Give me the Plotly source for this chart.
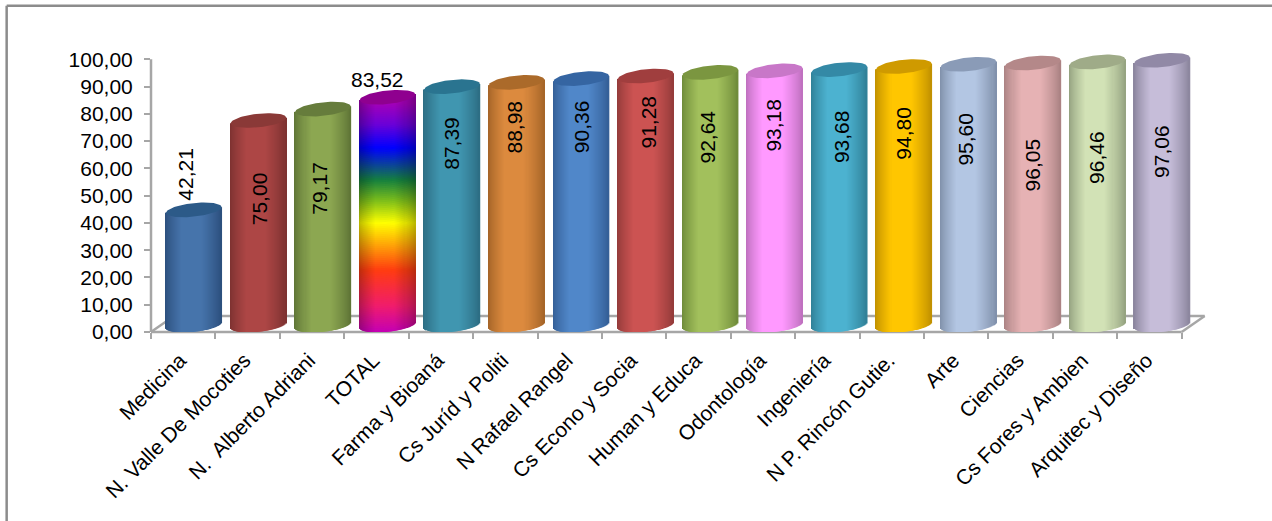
import numpy as np
import plotly.graph_objects as go

CATEGORIES = ["Medicina", "N. Valle De Mocoties", "N.  Alberto Adriani", "TOTAL", "Farma y Bioaná",
              "Cs Juríd y Politi", "N Rafael Rangel", "Cs Econo y Socia", "Human y Educa", "Odontología",
              "Ingeniería", "N P. Rincón Gutie.", "Arte", "Ciencias", "Cs Fores y Ambien", "Arquitec y Diseño"]
VALUES = [42.21, 75.00, 79.17, 83.52, 87.39, 88.98, 90.36, 91.28, 92.64, 93.18, 93.68, 94.80, 95.60, 96.05, 96.46, 97.06]
Y_TICKS = [0, 10, 20, 30, 40, 50, 60, 70, 80, 90, 100]

# Styling: lit centre, shaded edge and top-cap colour of each cylinder
CENTER = ["#4674ab", "#ad4645", "#8ca751", "#000000", "#4096b0", "#dc8a3e", "#5087c9", "#cc5352",
          "#a2c05c", "#ff99ff", "#4cb2d0", "#ffc600", "#b3c6e3", "#e6b2b4", "#d2e2b6", "#c6bdd9"]
EDGE = ["#2b4e7c", "#7c3130", "#5e7436", "#000000", "#2c6c82", "#a36327", "#345e96", "#923a39",
        "#6e8a39", "#bd6fbd", "#2f7f96", "#bf8f00", "#7f8fa9", "#a98182", "#93a17f", "#8a849c"]
TOP = ["#2c5a88", "#8a3937", "#667c3c", "#8f008f", "#2a7490", "#ab6a2a", "#3565a2", "#a03e3e",
       "#7b9640", "#c877c8", "#3489a6", "#cf9a00", "#8a9bb7", "#b48889", "#9fab88", "#9189a6"]
# TOTAL rainbow: stop height in axis units, colour
RAINBOW_AT = [0, 9.5, 22.7, 40, 48, 55.7, 67.5, 76, 84, 95]
RAINBOW_RGB = ["#c400b4", "#f01c6c", "#ff3c10", "#ffff00", "#7fbf1a", "#15803e", "#0000ff", "#6a00d8", "#a400b8", "#a400b8"]
# Data-label centres in page pixels
LABEL_X_PX = [186, 260, 320, 378, 451, 515, 581.7, 649, 708, 772.7, 841.7, 904, 966, 1032.7, 1097, 1161.7]
LABEL_Y_PX = [174, 198.5, 188, 80, 143, 126.7, 126.7, 121.7, 136.7, 125, 136.5, 132.8, 138.7, 164.8, 157, 151.3]
LABEL_ANGLE = [-90, -90, -90, 0, -90, -90, -90, -90, -90, -90, -90, -90, -90, -90, -90, -90]

W, H = 1272, 521
AX_LEFT, AX_BOTTOM, CAT_PX, UNIT_PX = 151.3, 332.0, 64.4, 2.727
PLOT_RIGHT, PLOT_TOP = 1240, 32
X_RANGE = [-0.5, -0.5 + (PLOT_RIGHT - AX_LEFT) / CAT_PX]
Y_RANGE = [0, (AX_BOTTOM - PLOT_TOP) / UNIT_PX]
BAR_W_PX, BAR_PITCH_PX, DX_PX, DY_PX, ELL_H_PX, TILT_PX = 55.5, 64.53, 10.7, 7.0, 6.8, 2.8
FLOOR_DX_PX, FLOOR_DY_PX = 23.0, 16.0
GREY = "#a6a6a6"
FONT = "Liberation Sans, Arial, sans-serif"
FONT_SIZE = 21
TICK_NUDGE = 3.0 / CAT_PX


def rgb(h):
    return np.array([int(h[k:k + 2], 16) for k in (1, 3, 5)], float)


def css(c):
    return "rgb(%d,%d,%d)" % tuple(np.clip(np.round(c), 0, 255))


def shade(u):
    t = (u + 1) / 2
    s = min(1.0, t / 0.30) * min(1.0, (1 - t) / 0.36)
    return s ** 0.8


def rainbow(v):
    return np.array([np.interp(v, RAINBOW_AT, [rgb(c)[k] for c in RAINBOW_RGB]) for k in range(3)])


def px_x(x):
    return (x - X_RANGE[0]) / (X_RANGE[1] - X_RANGE[0])


def px_y(y):
    return (y - Y_RANGE[0]) / (Y_RANGE[1] - Y_RANGE[0])


fig = go.Figure()
dx = DX_PX / CAT_PX
dy = DY_PX / UNIT_PX
half = BAR_W_PX / 2 / CAT_PX
n_strips = int(BAR_W_PX)
strip_w = 1.6 / CAT_PX
seg_h = 2.0 / UNIT_PX

for i, (cat, val) in enumerate(zip(CATEGORIES, VALUES)):
    cx = i * BAR_PITCH_PX / CAT_PX + dx
    xs, bases, heights, cols = [], [], [], []
    for u in np.linspace(-0.985, 0.985, n_strips):
        x = cx + u * half
        root = np.sqrt(max(0.0, 1 - u * u))
        tilt = TILT_PX * u / UNIT_PX
        low = dy + tilt - ELL_H_PX * root / UNIT_PX
        high = val + dy + tilt
        s = shade(u)
        if cat == "TOTAL":
            v = low
            while v < high:
                top = min(high, v + seg_h * 1.5)
                xs.append(x)
                bases.append(v)
                heights.append(top - v)
                cols.append(css(rainbow(v + seg_h / 2) * (0.72 + 0.28 * s)))
                v += seg_h
        else:
            xs.append(x)
            bases.append(low)
            heights.append(high - low)
            cols.append(css(rgb(EDGE[i]) + (rgb(CENTER[i]) - rgb(EDGE[i])) * s))
    fig.add_trace(go.Bar(x=xs, y=heights, base=bases, width=strip_w, name=cat, showlegend=False,
                         marker=dict(color=cols, line=dict(width=0)), hoverinfo="skip", cliponaxis=False))
    a = np.linspace(0, 2 * np.pi, 73)
    cap_u = np.cos(a)
    fig.add_trace(go.Scatter(x=cx + cap_u * half,
                             y=val + dy + (TILT_PX * cap_u + ELL_H_PX * np.sin(a)) / UNIT_PX,
                             mode="lines", fill="toself", fillcolor=TOP[i], line=dict(width=0, color=TOP[i]),
                             showlegend=False, hoverinfo="skip", cliponaxis=False))

# Floor, y axis line and outer frame, drawn behind the cylinders
x0, x1 = -0.5, len(CATEGORIES) - 0.5
fx, fy = FLOOR_DX_PX / CAT_PX, FLOOR_DY_PX / UNIT_PX
floor = [((x0, 0), (x1, 0)), ((x1, 0), (x1 + fx, fy)), ((x1 + fx, fy), (x0 + fx, fy)), ((x0 + fx, fy), (x0, 0)),
         ((x0, 0), (x0, 100))]
shapes = [dict(type="line", xref="paper", yref="paper", layer="below",
               x0=px_x(a[0]), y0=px_y(a[1]), x1=px_x(b[0]), y1=px_y(b[1]), line=dict(color=GREY, width=2.5))
          for a, b in floor]
pw = PLOT_RIGHT - AX_LEFT
ph = AX_BOTTOM - PLOT_TOP
to_xp = lambda p: (p - AX_LEFT) / pw
to_yp = lambda p: (AX_BOTTOM - p) / ph
frame = dict(color="#8c8c8c", width=2.5)
shapes.append(dict(type="line", xref="paper", yref="paper", x0=to_xp(7), x1=to_xp(7), y0=to_yp(521), y1=to_yp(5.7), line=frame))
shapes.append(dict(type="line", xref="paper", yref="paper", x0=to_xp(7), x1=to_xp(1272), y0=to_yp(5.7), y1=to_yp(5.7), line=frame))

annotations = []
for i, val in enumerate(VALUES):
    ax_px = AX_LEFT + (i + 0.5) * CAT_PX
    ay_px = AX_BOTTOM - val * UNIT_PX
    annotations.append(dict(x=i, y=val, xref="x", yref="y", text=f"{val:.2f}".replace(".", ","),
                            showarrow=False, textangle=LABEL_ANGLE[i],
                            xshift=LABEL_X_PX[i] - ax_px, yshift=ay_px - LABEL_Y_PX[i],
                            font=dict(family=FONT, size=FONT_SIZE, color="#000000")))

fig.update_layout(
    width=W, height=H, autosize=False, barmode="overlay", showlegend=False,
    paper_bgcolor="white", plot_bgcolor="white", separators=",.",
    margin=dict(l=AX_LEFT, r=W - PLOT_RIGHT, t=PLOT_TOP, b=H - AX_BOTTOM, pad=0),
    font=dict(family=FONT, size=FONT_SIZE, color="#000000"),
    shapes=shapes, annotations=annotations,
)
fig.update_xaxes(range=X_RANGE, showgrid=False, zeroline=False, showline=False,
                 tickmode="array", tickvals=[k - TICK_NUDGE for k in range(len(CATEGORIES))], ticktext=CATEGORIES,
                 tickangle=-45, ticks="", ticklabelstandoff=11,
                 tickfont=dict(family=FONT, size=FONT_SIZE, color="#000000"),
                 minor=dict(ticks="outside", tickmode="array",
                            tickvals=[k - 0.5 for k in range(len(CATEGORIES) + 1)],
                            ticklen=6, tickwidth=2, tickcolor=GREY, showgrid=False))
fig.update_yaxes(range=Y_RANGE, showgrid=False, zeroline=False, showline=False,
                 tickmode="array", tickvals=Y_TICKS, tickformat=".2f", ticks="outside",
                 ticklen=6, tickwidth=2, tickcolor=GREY, ticklabelstandoff=7,
                 tickfont=dict(family=FONT, size=FONT_SIZE, color="#000000"))

fig.write_html("out.html", config=dict(displayModeBar=False),
               post_script="document.body.style.margin='0';document.body.style.overflow='hidden';")
